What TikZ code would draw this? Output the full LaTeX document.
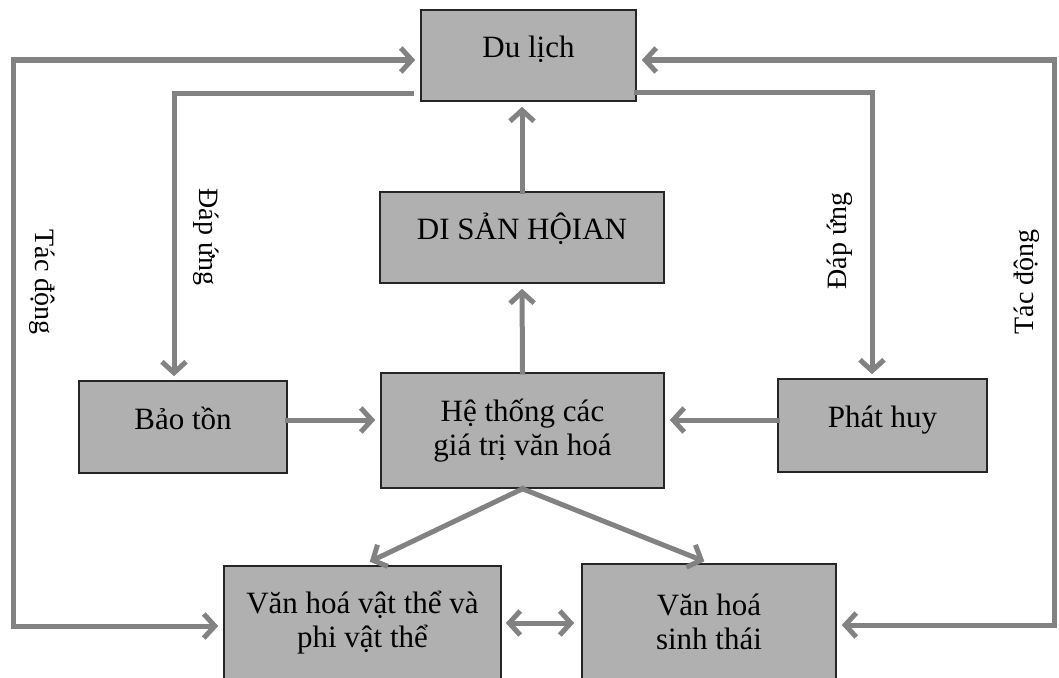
\documentclass[tikz,border=0pt]{standalone}
\usepackage{fontspec}
\setmainfont{Liberation Serif}
\usepackage{tikz}
\usetikzlibrary{positioning,calc,arrows.meta}

\definecolor{boxgray}{RGB}{176,176,176}
\definecolor{linkgray}{RGB}{130,130,130}

\tikzset{
  box/.style={draw=black!85, line width=1.6pt, fill=boxgray, align=center,
    font=\fontsize{31}{34}\selectfont, inner sep=0pt},
  single/.style={text height=19pt, text depth=15pt},
  link/.style={draw=linkgray, line width=5pt, line cap=rect,
    -{Straight Barb[length=11pt,width=24pt]}, shorten >=5pt},
  both/.style={link, {Straight Barb[length=11pt,width=24pt]}-{Straight Barb[length=11pt,width=24pt]}, shorten <=5pt},
  side/.style={font=\fontsize{28}{32}\selectfont}
}

\begin{document}
\begin{tikzpicture}[x=1pt,y=-1pt]
    \clip (0,0) rectangle (1059,677);
    \fill[white] (0,0) rectangle (1059,677);

    % boxes
    \node[box, single, minimum width=215pt, minimum height=91pt] (dulich) at (528.5,55.5) {Du lịch};
    \node[box, single, minimum width=284pt, minimum height=91pt] (disan) at (522,237.5) {DI SẢN HỘIAN};
    \node[box, minimum width=283pt, minimum height=115pt] (hethong) at (522.5,430.5) {Hệ thống các\\giá trị văn hoá};
    \node[box, single, minimum width=208pt, minimum height=92pt] (bao) at (183,427) {Bảo tồn};
    \node[box, single, minimum width=209pt, minimum height=93pt] (phat) at (882.5,425.5) {Phát huy};
    \node[box, minimum width=277pt, minimum height=114pt] (vh) at (362.5,623) {Văn hoá vật thể và\\phi vật thể};
    \node[box, minimum width=254pt, minimum height=116pt] (sinh) at (709,622) {Văn hoá\\sinh thái};

    % side labels
    \node[side, rotate=-90] (tacl) at (42,282) {Tác động};
    \node[side, rotate=-90] (dapl) at (206,237) {Đáp ứng};
    \node[side, rotate=90] (dapr) at (840,241) {Đáp ứng};
    \node[side, rotate=90] (tacr) at (1027,282) {Tác động};

    % centre column
    \draw[link] (hethong.north) -- (disan.south);
    \draw[link] (disan.north) -- (disan.north |- dulich.south);
    \coordinate (b1) at ([yshift=7pt]bao.east);
    \draw[link] (b1) -- (b1 -| hethong.west);
    \coordinate (p1) at ([yshift=5.5pt]phat.west);
    \draw[link] (p1) -- (p1 -| hethong.east);
    \draw[link, shorten >=8pt] (hethong.south) -- (vh.north);
    \draw[link, shorten >=5pt] (hethong.south) -- (sinh.north);
    \draw[both, shorten <=4pt, shorten >=7pt] (vh.east) -- (vh.east -| sinh.west);

    % response loops
    \coordinate (il) at (174,93);
    \draw[link, shorten <=9pt, shorten >=4pt] (il -| dulich.west) -- (il) -- (il |- bao.north);
    \coordinate (ir) at (872,92);
    \draw[link, shorten >=4pt] (ir -| dulich.east) -- (ir) -- (ir |- phat.north);

    % outer loops
    \coordinate (lt) at (13,60);
    \coordinate (lb) at (13,626);
    \draw[both] (lt -| dulich.west) -- (lt) -- (lb) -- (lb -| vh.west);
    \coordinate (rt) at (1054,60);
    \coordinate (rb) at (1054,625);
    \draw[both] (rt -| dulich.east) -- (rt) -- (rb) -- (rb -| sinh.east);
\end{tikzpicture}
\end{document}
